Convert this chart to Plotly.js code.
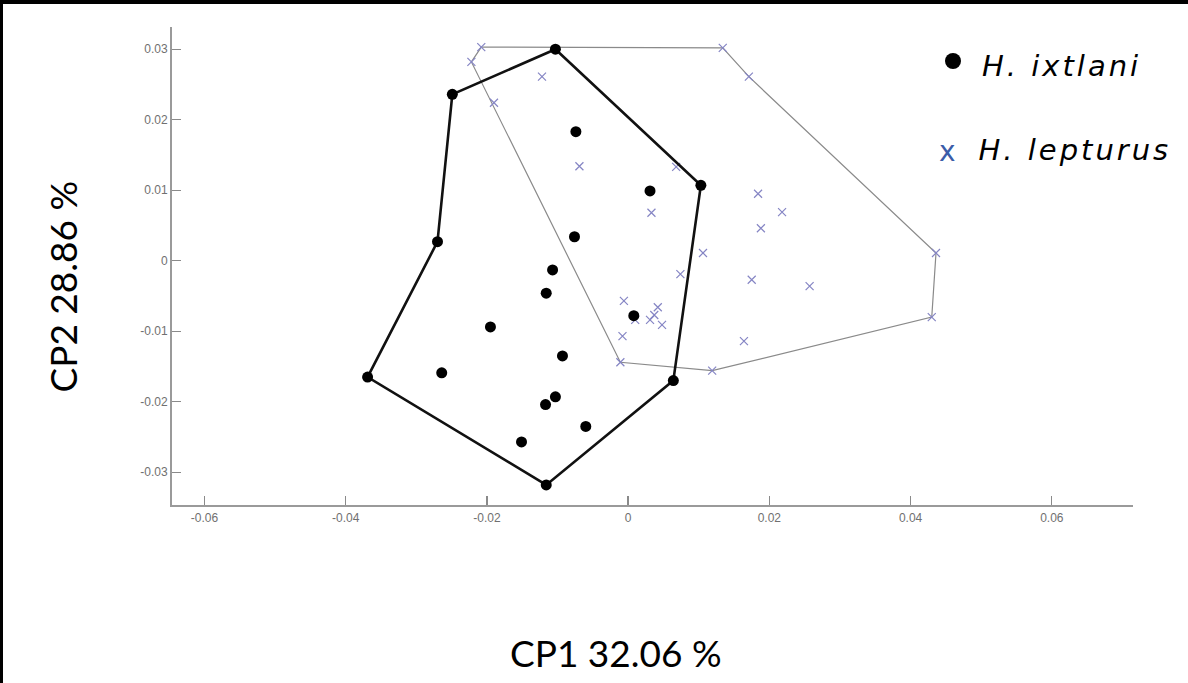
<!DOCTYPE html>
<html>
<head>
<meta charset="utf-8">
<script src="https://cdn.plot.ly/plotly-3.0.1.min.js"></script>
<style>
  html, body { margin: 0; padding: 0; background: #ffffff; }
  #wrap { position: relative; width: 1188px; height: 683px; overflow: hidden; }
  #chart { width: 1188px; height: 683px; }
  #frame { position: absolute; left: 0; top: 0; width: 1188px; height: 683px; box-sizing: border-box;
           border-top: 4px solid #000; border-left: 3px solid #000; pointer-events: none; }
</style>
</head>
<body>
<div id="wrap"><div id="chart"></div><div id="frame"></div></div>
<script>
// H. ixtlani (filled black circles)
const ixtlaniX = [-0.0103, -0.0249, -0.0074, 0.0031, 0.0103, -0.0270, -0.0076, -0.0107, -0.0116, 0.0008,
                  -0.0195, -0.0093, -0.0369, -0.0264, 0.0064, -0.0103, -0.0117, -0.0060, -0.0151, -0.0116];
const ixtlaniY = [0.0300, 0.0236, 0.0183, 0.0099, 0.0107, 0.0027, 0.0034, -0.0013, -0.0046, -0.0078,
                  -0.0094, -0.0135, -0.0165, -0.0159, -0.0170, -0.0193, -0.0204, -0.0235, -0.0257, -0.0318];
// polygon outline through the outer ixtlani points (indices into the arrays above)
const ixtlaniHull = [0, 4, 14, 19, 12, 5, 1, 0];

// H. lepturus (x marks)
const lepturusX = [-0.0208, -0.0222, -0.0122, -0.0190, 0.0134, 0.0171, -0.0069, 0.0068, 0.0033, 0.0184,
                   0.0218, 0.0188, 0.0106, 0.0436, 0.0074, 0.0175, 0.0257, -0.0006, 0.0042, 0.0037,
                   0.0031, 0.0010, 0.0048, -0.0008, 0.0164, -0.0011, 0.0119, 0.0430];
const lepturusY = [0.0303, 0.0282, 0.0261, 0.0224, 0.0302, 0.0261, 0.0134, 0.0133, 0.0068, 0.0095,
                   0.0069, 0.0046, 0.0011, 0.0011, -0.0019, -0.0027, -0.0036, -0.0057, -0.0066, -0.0077,
                   -0.0084, -0.0084, -0.0091, -0.0107, -0.0114, -0.0144, -0.0156, -0.0080];
const lepturusHull = [0, 4, 5, 13, 27, 26, 25, 1, 0];

const tickVals = [-0.06, -0.04, -0.02, 0, 0.02, 0.04, 0.06];
const tickText = ['-0.06', '-0.04', '-0.02', '0', '0.02', '0.04', '0.06'];
const yTickVals = [-0.03, -0.02, -0.01, 0, 0.01, 0.02, 0.03];
const yTickText = ['-0.03', '-0.02', '-0.01', '0', '0.01', '0.02', '0.03'];

const xTitle = 'CP1 32.06 %';
const yTitle = 'CP2 28.86 %';
const names = ['H. ixtlani', 'H. lepturus'];

const pick = (arr, idx) => idx.map(i => arr[i]);

const traces = [
  { type: 'scatter', mode: 'lines', x: pick(lepturusX, lepturusHull), y: pick(lepturusY, lepturusHull),
    line: { color: '#8a8a8a', width: 1.2 }, hoverinfo: 'skip', showlegend: false },
  { type: 'scatter', mode: 'markers', name: names[1], x: lepturusX, y: lepturusY,
    marker: { symbol: 'x-thin', size: 8, color: '#8585c4', line: { color: '#8585c4', width: 1.2 } }, showlegend: false },
  { type: 'scatter', mode: 'lines', x: pick(ixtlaniX, ixtlaniHull), y: pick(ixtlaniY, ixtlaniHull),
    line: { color: '#111111', width: 2.6 }, hoverinfo: 'skip', showlegend: false },
  { type: 'scatter', mode: 'markers', name: names[0], x: ixtlaniX, y: ixtlaniY,
    marker: { symbol: 'circle', size: 11, color: '#000000' }, showlegend: false }
];

const PW = 961, PH = 478, L = 172, T = 27;
const px = v => (v - L) / PW;
const py = v => (T + PH - v) / PH;
const tickFont = { family: 'Liberation Sans, Arial, sans-serif', size: 12, color: '#707070' };
const legFont = { family: 'DejaVu Sans, sans-serif', size: 29, color: '#000' };

const layout = {
  width: 1188, height: 683,
  margin: { l: L, r: 1188 - L - PW, t: T, b: 683 - T - PH },
  paper_bgcolor: '#ffffff', plot_bgcolor: '#ffffff',
  showlegend: false,
  xaxis: {
    range: [-0.0646, 0.0715], tickvals: tickVals, ticktext: tickText,
    showgrid: false, zeroline: false, showline: true, linecolor: '#9a9a9a', linewidth: 2,
    ticks: 'inside', ticklen: 9, tickwidth: 1.3, tickcolor: '#8a8a8a',
    tickfont: tickFont, ticklabelstandoff: 1,
    title: { text: '' }, fixedrange: true
  },
  yaxis: {
    range: [-0.03465, 0.03315], tickvals: yTickVals, ticktext: yTickText,
    showgrid: false, zeroline: false, showline: true, linecolor: '#9a9a9a', linewidth: 2,
    ticks: 'inside', ticklen: 9, tickwidth: 1.3, tickcolor: '#8a8a8a',
    tickfont: tickFont, ticklabelstandoff: -3.5,
    title: { text: '' }, fixedrange: true
  },
  shapes: [
    { type: 'circle', xref: 'paper', yref: 'paper', xsizemode: 'pixel', ysizemode: 'pixel',
      xanchor: px(953), yanchor: py(61), x0: -8, x1: 8, y0: -8, y1: 8,
      fillcolor: '#000000', line: { width: 0 } }
  ],
  annotations: [
    { xref: 'paper', yref: 'paper', x: px(615.5), y: py(652), xanchor: 'center', yanchor: 'middle',
      text: xTitle, showarrow: false, font: { family: 'Lato, Open Sans, sans-serif', size: 37, color: '#000' } },
    { xref: 'paper', yref: 'paper', x: px(61.5), y: py(287), xanchor: 'center', yanchor: 'middle',
      text: yTitle, textangle: -90, showarrow: false, font: { family: 'Lato, Open Sans, sans-serif', size: 37, color: '#000' } },
    { xref: 'paper', yref: 'paper', x: px(995), y: py(66), xanchor: 'left', yanchor: 'middle',
      text: '<i>' + names[0] + '</i>', showarrow: false, font: legFont },
    { xref: 'paper', yref: 'paper', x: px(993), y: py(150), xanchor: 'left', yanchor: 'middle',
      text: '<i>' + names[1] + '</i>', showarrow: false, font: legFont },
    { xref: 'paper', yref: 'paper', x: px(947.5), y: py(151), xanchor: 'center', yanchor: 'middle',
      text: 'x', showarrow: false, font: { family: 'DejaVu Sans, sans-serif', size: 28, color: '#3b5ca8' } }
  ]
};

Plotly.newPlot('chart', traces, layout, { staticPlot: true, displayModeBar: false }).then(() => {
  // widen the legend labels a little, as in the original figure
  const anns = document.querySelectorAll('#chart .annotation-text');
  [2, 3].forEach(i => { if (anns[i]) anns[i].style.letterSpacing = '3px'; });
});
</script>
</body>
</html>
